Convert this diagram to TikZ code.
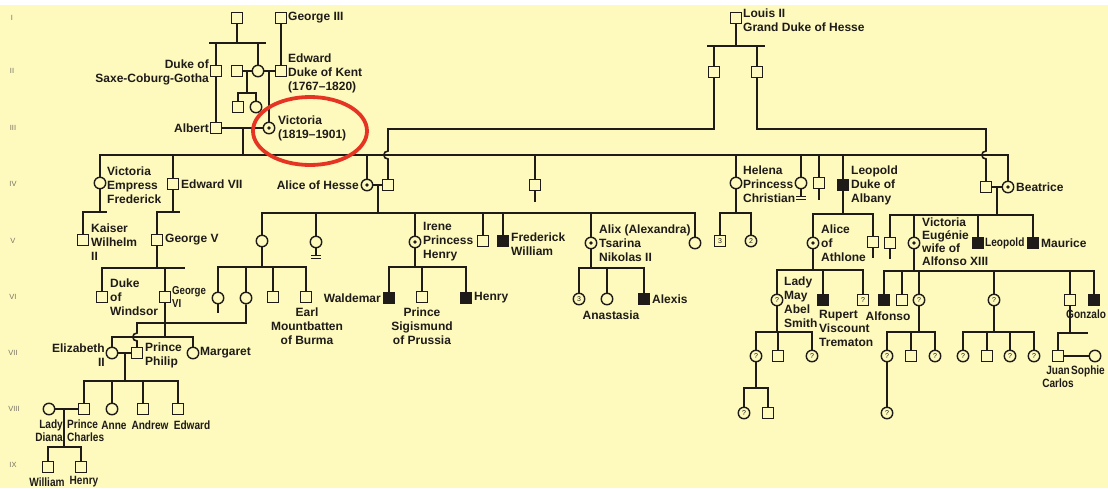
\documentclass[tikz,border=0pt]{standalone}
\usepackage{fontspec}
\setmainfont{Liberation Sans}
\newfontfamily\narrowfam[FakeStretch=0.84]{Liberation Sans}
\definecolor{bg}{RGB}{254,250,190}
\definecolor{ink}{RGB}{30,27,24}
\definecolor{rd}{RGB}{230,52,35}
\definecolor{num}{RGB}{120,115,100}
\newcommand\lblfont{\fontsize{12}{14}\selectfont\bfseries}
\newcommand\cndfont{\narrowfam\fontsize{12}{13}\selectfont\bfseries}
\newcommand\gsixfont{\narrowfam\fontsize{11.5}{13}\selectfont\bfseries}
\newcommand\qfont{\fontsize{7}{7}\selectfont}
\newcommand\rnfont{\fontsize{7.5}{8}\selectfont}
\tikzset{
 ln/.style={draw=ink, line width=1.6pt},
 sym/.style={draw=ink, line width=1.4pt, fill=bg, inner sep=0pt, text=ink},
 ma/.style={sym, rectangle, minimum size=10.5pt},
 fe/.style={sym, circle, minimum size=11.5pt},
 am/.style={ma, fill=ink},
 cf/.style={fe, path picture={\fill[ink] (path picture bounding box.center) circle (1.9pt);}},
 qf/.style={fe, font=\qfont},
 qm/.style={ma, font=\qfont},
 lbl/.style={inner sep=0pt, font=\lblfont, text=ink, align=left},
 lblr/.style={lbl, align=right},
 lblc/.style={lbl, align=center},
 cnd/.style={lbl, font=\cndfont},
 rn/.style={inner sep=0pt, font=\rnfont, text=num},
}
\begin{document}
\begin{tikzpicture}[x=1pt,y=-1pt]
\useasboundingbox (0,0) rectangle (1108,488);
\fill[white] (0,0) rectangle (1108,488);
\fill[bg] (0,5) rectangle (1108,488);

% roman numerals
\node[rn] (r1) at (12,18) {I};
\node[rn] (r2) at (12,71) {II};
\node[rn] (r3) at (13,128) {III};
\node[rn] (r4) at (13,184) {IV};
\node[rn] (r5) at (13,241) {V};
\node[rn] (r6) at (13,297) {VI};
\node[rn] (r7) at (13,353) {VII};
\node[rn] (r8) at (14,409) {VIII};
\node[rn] (r9) at (13,465) {IX};

% ---------- Generation I ----------
\node[ma] (p1) at (237,18) {};
\node[ma] (g3) at (281,18) {};
\node[lbl,anchor=west] (tg3) at (288,18) {George III};
\node[ma] (lou) at (736,18) {};
\node[lbl,anchor=west] (tlou) at (743,20) {Louis II\\Grand Duke of Hesse};

% ---------- Generation II ----------
\node[ma] (dsc) at (216,71) {};
\node[lblr,anchor=east] (tdsc) at (209,72) {Duke of\\Saxe-Coburg-Gotha};
\node[ma] (lei) at (237,71) {};
\node[fe] (vsc) at (258,71) {};
\node[ma] (edk) at (281,71) {};
\node[lbl,anchor=west] (tedk) at (288,73) {Edward\\Duke of Kent\\(1767–1820)};
\node[ma] (lc1) at (238,107) {};
\node[fe] (lc2) at (256,107) {};
\node[ma] (hs1) at (714,72) {};
\node[ma] (hs2) at (757,72) {};

% ---------- Generation III ----------
\node[ma] (alb) at (216,128) {};
\node[lbl,anchor=east] (talb) at (209,128) {Albert};
\node[cf] (vic) at (269,128) {};
\node[lbl,anchor=west] (tvic) at (278,128) {Victoria\\(1819–1901)};

% ---------- Generation IV ----------
\node[fe] (vef) at (100,183) {};
\node[lbl,anchor=west] (tvef) at (107,185) {Victoria\\Empress\\Frederick};
\node[ma] (e7) at (173,184) {};
\node[lbl,anchor=west] (te7) at (181,184) {Edward VII};
\node[cf] (alh) at (367,185) {};
\node[lbl,anchor=east] (talh) at (359,185) {Alice of Hesse};
\node[ma] (ah) at (388,185) {};
\node[ma] (s535) at (535,185) {};
\node[fe] (hel) at (736,183) {};
\node[lbl,anchor=west] (thel) at (743,184) {Helena\\Princess\\Christian};
\node[fe] (f801) at (801,183) {};
\node[ma] (s819) at (819,183) {};
\node[am] (leo) at (843,185) {};
\node[lbl,anchor=west] (tleo) at (851,185) {Leopold\\Duke of\\Albany};
\node[ma] (bh) at (986,187) {};
\node[cf] (bea) at (1008,187) {};
\node[lbl,anchor=west] (tbea) at (1016,187) {Beatrice};

% ---------- Generation V ----------
\node[ma] (kw) at (83,240) {};
\node[lbl,anchor=west] (tkw) at (91,242) {Kaiser\\Wilhelm\\II};
\node[ma] (g5) at (157,240) {};
\node[lbl,anchor=west] (tg5) at (165,240) {George V};
\node[fe] (vh) at (262,241) {};
\node[fe] (f316) at (316,242) {};
\node[cf] (ire) at (415,242) {};
\node[lbl,anchor=west] (tire) at (423,242) {Irene\\Princess\\Henry};
\node[ma] (s483) at (483,241) {};
\node[am] (fw) at (503,241) {};
\node[lbl,anchor=west] (tfw) at (511,244) {Frederick\\William};
\node[cf] (alx) at (591,243) {};
\node[lbl,anchor=west] (talx) at (599,243) {Alix (Alexandra)\\Tsarina\\Nikolas II};
\node[fe] (f695) at (695,243) {};
\node[qm] (h1) at (720,241) {3};
\node[qf] (h2) at (751,241) {2};
\node[cf] (aa) at (813,243) {};
\node[lbl,anchor=west] (taa) at (821,243) {Alice\\of\\Athlone};
\node[ma] (s873) at (873,242) {};
\node[ma] (s890) at (890,243) {};
\node[cf] (ve) at (914,243) {};
\node[lbl,anchor=west,font=\fontsize{12}{13}\selectfont\bfseries] (tve) at (922,242) {Victoria\\Eugénie\\wife of\\Alfonso XIII};
\node[am] (bl) at (978,243) {};
\node[cnd,anchor=west] (tbl) at (985,243) {Leopold};
\node[am] (bm) at (1033,243) {};
\node[lbl,anchor=west] (tbm) at (1041,243) {Maurice};

% ---------- Generation VI ----------
\node[ma] (dw) at (102,297) {};
\node[lbl,anchor=west] (tdw) at (110,297) {Duke\\of\\Windsor};
\node[ma] (g6) at (165,297) {};
\node[lbl,anchor=west,font=\gsixfont] (tg6) at (172,297) {George\\VI};
\node[fe] (f218) at (218,298) {};
\node[fe] (abb) at (246,298) {};
\node[ma] (s273) at (273,297) {};
\node[ma] (em) at (306,297) {};
\node[lblc] (tem) at (307,326) {Earl\\Mountbatten\\of Burma};
\node[am] (wal) at (389,298) {};
\node[lbl,anchor=east] (twal) at (381,298) {Waldemar};
\node[ma] (sig) at (422,297) {};
\node[lblc] (tsig) at (422,326) {Prince\\Sigismund\\of Prussia};
\node[am] (hen) at (466,298) {};
\node[lbl,anchor=west] (then) at (474,298) {Henry};
\node[qf] (a1) at (579,299) {3};
\node[fe] (ana) at (607,299) {};
\node[lblc] (tana) at (611,315) {Anastasia};
\node[am] (ale) at (644,299) {};
\node[lbl,anchor=west] (tale) at (652,299) {Alexis};
\node[qf] (lm) at (777,300) {?};
\node[lbl,anchor=west] (tlm) at (784,302) {Lady\\May\\Abel\\Smith};
\node[am] (rup) at (823,300) {};
\node[lbl,anchor=west] (trup) at (819,328) {Rupert\\Viscount\\Trematon};
\node[qm] (q863) at (863,300) {?};
\node[am] (alf) at (884,300) {};
\node[lblc] (talf) at (888,316) {Alfonso};
\node[ma] (s902) at (902,300) {};
\node[qf] (q919) at (919,300) {?};
\node[qf] (q994) at (994,300) {?};
\node[ma] (s1070) at (1070,300) {};
\node[am] (gon) at (1094,300) {};
\node[cnd,anchor=west] (tgon) at (1066,314) {Gonzalo};

% ---------- Generation VII ----------
\node[fe] (eli) at (112,353) {};
\node[lblr,anchor=east] (teli) at (105,355) {Elizabeth\\II};
\node[ma] (phi) at (137,353) {};
\node[lbl,anchor=west] (tphi) at (145,355) {Prince\\Philip};
\node[fe] (mar) at (193,353) {};
\node[lbl,anchor=west] (tmar) at (200,353) {Margaret};
\node[qf] (q756) at (756,356) {?};
\node[ma] (s778) at (778,356) {};
\node[qf] (q812) at (812,356) {?};
\node[qf] (q887) at (887,356) {?};
\node[ma] (s911) at (911,356) {};
\node[qf] (q935) at (935,356) {?};
\node[qf] (q963) at (963,356) {?};
\node[ma] (s987) at (987,356) {};
\node[qf] (q1010) at (1010,356) {?};
\node[qf] (q1034) at (1034,356) {?};
\node[ma] (jc) at (1058,356) {};
\node[cnd,align=center] (tjc) at (1058,377) {Juan\\Carlos};
\node[fe] (soph) at (1095,356) {};
\node[cnd,anchor=west] (tsoph) at (1071,371) {Sophie};

% ---------- Generation VIII ----------
\node[fe] (dia) at (49,409) {};
\node[cnd,align=right,anchor=east] (tdia) at (63,431) {Lady\\Diana};
\node[ma] (cha) at (84,409) {};
\node[cnd,anchor=west] (tcha) at (67,431) {Prince\\Charles};
\node[fe] (ann) at (112,409) {};
\node[cnd] (tann) at (114,425) {Anne};
\node[ma] (andr) at (143,409) {};
\node[cnd] (tand) at (150,425) {Andrew};
\node[ma] (edw) at (178,409) {};
\node[cnd] (tedw) at (192,425) {Edward};
\node[qf] (q744) at (744,413) {?};
\node[ma] (s768) at (768,413) {};
\node[qf] (q887b) at (887,413) {?};

% ---------- Generation IX ----------
\node[ma] (wil) at (48,467) {};
\node[cnd] (twil) at (47,482) {William};
\node[ma] (hry) at (81,467) {};
\node[cnd] (thry) at (84,482) {Henry};

% ================= connectors =================
% Gen I -> II
\coordinate (b1) at (237,43);
\coordinate (b1l) at (209,43);
\coordinate (b1r) at (266,43);
\draw[ln] (p1.south) -- (b1);
\draw[ln] (b1l) -- (b1r);
\draw[ln] (dsc.north) -- (dsc.north |- b1);
\draw[ln] (vsc.north) -- (vsc.north |- b1);
\draw[ln] (g3.south) -- (edk.north);
\draw[ln] (lei.east) -- (vsc.west);
\draw[ln] (vsc.east) -- (edk.west);
\coordinate (m2a) at (247,71);
\coordinate (b2a) at (247,93);
\draw[ln] (m2a) -- (b2a);
\draw[ln] (lc1.north) |- (b2a) -| (lc2.north);
\coordinate (m2b) at (269,71);
\draw[ln] (m2b) -- (vic.north);
% Hesse
\coordinate (bl0) at (736,46);
\coordinate (bll) at (707,46);
\coordinate (blr) at (765,46);
\draw[ln] (lou.south) -- (bl0);
\draw[ln] (bll) -- (blr);
\draw[ln] (hs1.north) -- (hs1.north |- bl0);
\draw[ln] (hs2.north) -- (hs2.north |- bl0);
% Gen III
\draw[ln] (dsc.south) -- (alb.north);
\draw[ln] (alb.east) -- (vic.west);
\coordinate (m3) at (243,128);
\coordinate (b4) at (243,155);
\draw[ln] (m3) -- (b4);
\draw[ln] (vef.north) |- (b4) -| (bea.north);
\foreach \n in {e7,alh,s535,hel,f801,s819,leo}{\draw[ln] (\n.north) -- (\n.north |- b4);}
% Hesse sons to spouses with hops
\coordinate (ha1) at (388,129);
\coordinate (ha2) at (388,151);
\coordinate (ha3) at (388,159);
\draw[ln] (hs1.south) |- (ha1) -- (ha2) .. controls (382.5,151) and (382.5,159) .. (ha3) -- (ah.north);
\coordinate (hb1) at (986,129);
\coordinate (hb2) at (986,151);
\coordinate (hb3) at (986,159);
\draw[ln] (hs2.south) |- (hb1) -- (hb2) .. controls (980.5,151) and (980.5,159) .. (hb3) -- (bh.north);
% marks and tails Gen IV
\draw[ln] (f801.south) -- ([yshift=-7pt]f801.south);
\draw[ln,line width=1pt] ([xshift=-5pt,yshift=-7pt]f801.south) -- ([xshift=5pt,yshift=-7pt]f801.south);
\draw[ln,line width=1pt] ([xshift=-5pt,yshift=-10pt]f801.south) -- ([xshift=5pt,yshift=-10pt]f801.south);
\draw[ln] (s535.south) -- ([yshift=-11pt]s535.south);
\draw[ln] (s819.south) -- ([yshift=-11pt]s819.south);

% Gen IV -> V
\coordinate (bK) at (107,212);
\draw[ln] (vef.south) -- (vef.south |- bK);
\draw[ln] (kw.north) |- (bK);
\coordinate (bE) at (180,212);
\draw[ln] (e7.south) -- (e7.south |- bE);
\draw[ln] (g5.north) |- (bE);
\draw[ln] (alh.east) -- (ah.west);
\coordinate (bA) at (378,213);
\draw[ln] (bA |- alh) -- (bA);
\draw[ln] (vh.north) |- (bA) -| (f695.north);
\foreach \n in {f316,ire,s483,fw,alx}{\draw[ln] (\n.north) -- (\n.north |- bA);}
\draw[ln] (f316.south) -- ([yshift=-7pt]f316.south);
\draw[ln,line width=1pt] ([xshift=-5pt,yshift=-7pt]f316.south) -- ([xshift=5pt,yshift=-7pt]f316.south);
\draw[ln,line width=1pt] ([xshift=-5pt,yshift=-10pt]f316.south) -- ([xshift=5pt,yshift=-10pt]f316.south);
\coordinate (bH) at (736,213);
\draw[ln] (hel.south) -- (bH);
\draw[ln] (h1.north) |- (bH) -| (h2.north);
\coordinate (bL) at (843,214);
\draw[ln] (leo.south) -- (bL);
\draw[ln] (aa.north) |- (bL) -| (s873.north);
\draw[ln] (s873.south) -- ([yshift=-10pt]s873.south);
\draw[ln] (bh.east) -- (bea.west);
\coordinate (bB) at (997,215);
\draw[ln] (bB |- bea) -- (bB);
\draw[ln] (s890.north) |- (bB) -| (bm.north);
\foreach \n in {ve,bl}{\draw[ln] (\n.north) -- (\n.north |- bB);}
\draw[ln] (s890.south) -- ([yshift=-10pt]s890.south);

% Gen V -> VI
\coordinate (bG) at (185,268);
\draw[ln] (g5.south) -- (g5.south |- bG);
\draw[ln] (dw.north) |- (bG);
\draw[ln] (g6.north) -- (g6.north |- bG);
\coordinate (bVH) at (262,267);
\draw[ln] (vh.south) -- (bVH);
\draw[ln] (f218.north) |- (bVH) -| (em.north);
\foreach \n in {abb,s273}{\draw[ln] (\n.north) -- (\n.north |- bVH);}
\draw[ln] (f218.south) -- ([yshift=-9pt]f218.south);
\coordinate (bI) at (415,267);
\draw[ln] (ire.south) -- (bI);
\draw[ln] (wal.north) |- (bI) -| (hen.north);
\draw[ln] (sig.north) -- (sig.north |- bI);
\coordinate (bX) at (591,268);
\draw[ln] (alx.south) -- (bX);
\draw[ln] (a1.north) |- (bX) -| (ale.north);
\draw[ln] (ana.north) -- (ana.north |- bX);
\coordinate (bAA) at (813,270);
\draw[ln] (aa.south) -- (bAA);
\draw[ln] (lm.north) |- (bAA) -| (q863.north);
\draw[ln] (rup.north) -- (rup.north |- bAA);
\coordinate (bVE) at (914,271);
\draw[ln] (ve.south) -- (bVE);
\draw[ln] (alf.north) |- (bVE) -| (gon.north);
\foreach \n in {s902,q919,q994,s1070}{\draw[ln] (\n.north) -- (\n.north |- bVE);}

% Gen VI -> VII
\coordinate (bG6) at (165,337);
\draw[ln] (g6.south) -- (bG6);
\draw[ln] (eli.north) |- (bG6) -| (mar.north);
\coordinate (pA) at (246,323);
\coordinate (pB) at (137,323);
\coordinate (pC) at (137,333);
\coordinate (pD) at (137,341);
\draw[ln] (abb.south) -- (pA) -- (pB) -- (pC) .. controls (131.5,333) and (131.5,341) .. (pD) -- (phi.north);
\draw[ln] (eli.east) -- (phi.west);
\coordinate (bLM) at (777,332);
\draw[ln] (lm.south) -- (bLM);
\draw[ln] (q756.north) |- (bLM) -| (q812.north);
\draw[ln] (s778.north) -- (s778.north |- bLM);
\coordinate (b919) at (919,332);
\draw[ln] (q919.south) -- (b919);
\draw[ln] (q887.north) |- (b919) -| (q935.north);
\draw[ln] (s911.north) -- (s911.north |- b919);
\coordinate (b994) at (994,332);
\draw[ln] (q994.south) -- (b994);
\draw[ln] (q963.north) |- (b994) -| (q1034.north);
\foreach \n in {s987,q1010}{\draw[ln] (\n.north) -- (\n.north |- b994);}
\coordinate (bJ) at (1088,333);
\draw[ln] (s1070.south) -- (s1070.south |- bJ);
\draw[ln] (jc.north) |- (bJ);
\draw[ln] (jc.east) -- (soph.west);

% Gen VII -> VIII
\coordinate (bEP) at (125,381);
\draw[ln] (bEP |- eli) -- (bEP);
\draw[ln] (cha.north) |- (bEP) -| (edw.north);
\foreach \n in {ann,andr}{\draw[ln] (\n.north) -- (\n.north |- bEP);}
\coordinate (b756) at (756,388);
\draw[ln] (q756.south) -- (b756);
\draw[ln] (q744.north) |- (b756) -| (s768.north);
\draw[ln] (q887.south) -- (q887b.north);

% Gen VIII -> IX
\draw[ln] (dia.east) -- (cha.west);
\coordinate (bDC) at (64,447);
\draw[ln] (bDC |- dia) -- (bDC);
\draw[ln] (wil.north) |- (bDC) -| (hry.north);

% red highlight
\draw[rd, line width=3.8pt] (310,131) ellipse (57 and 34);
\end{tikzpicture}
\end{document}
